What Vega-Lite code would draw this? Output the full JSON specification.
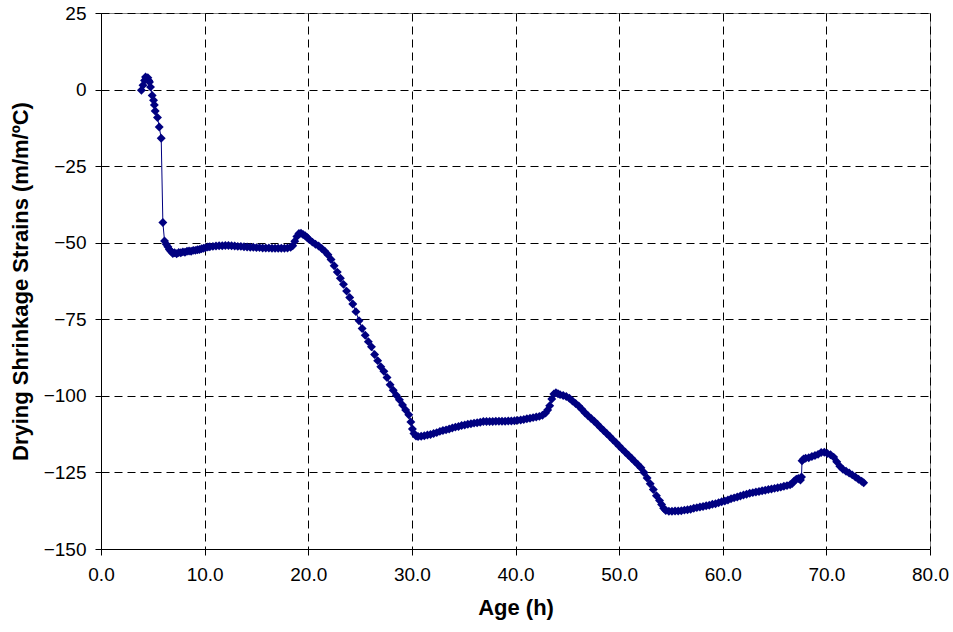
{
  "$schema": "https://vega.github.io/schema/vega-lite/v6.json",
  "width": 829,
  "height": 536,
  "autosize": {"type": "none"},
  "padding": {"left": 101, "top": 13, "right": 23, "bottom": 83},
  "background": "white",
  "config": {
    "view": {"stroke": "#808080", "strokeWidth": 1},
    "font": "Liberation Sans",
    "axis": {
      "labelFont": "Liberation Sans",
      "titleFont": "Liberation Sans",
      "labelFontSize": 19,
      "titleFontSize": 22,
      "titleFontWeight": "bold",
      "labelColor": "#000",
      "titleColor": "#000",
      "domainColor": "#000",
      "tickColor": "#000",
      "tickSize": 6,
      "gridColor": "#000",
      "gridDash": [8, 5],
      "gridWidth": 1,
      "gridOpacity": 1
    }
  },
  "data": {
    "values": [
      {"h":3.9,"v":-0.2},{"h":4.05,"v":1.4},{"h":4.2,"v":3.0},{"h":4.3,"v":4.1},{"h":4.4,"v":3.5},{"h":4.52,"v":3.9},{"h":4.6,"v":3.0},{"h":4.68,"v":2.5},{"h":4.78,"v":0.8},{"h":4.94,"v":-1.9},{"h":5.07,"v":-3.5},{"h":5.15,"v":-5.0},{"h":5.23,"v":-7.0},{"h":5.45,"v":-9.1},{"h":5.62,"v":-12.2},{"h":5.81,"v":-15.9},{"h":5.97,"v":-43.4},{"h":6.13,"v":-49.4},{"h":6.3,"v":-50.5},{"h":6.45,"v":-51.3},{"h":6.6,"v":-52.2},{"h":6.75,"v":-52.8},{"h":6.93,"v":-53.5},{"h":7.1,"v":-53.3},{"h":7.3,"v":-53.6},{"h":7.5,"v":-53.2},{"h":7.7,"v":-53.3},{"h":7.9,"v":-53.0},{"h":8.1,"v":-53.1},{"h":8.3,"v":-52.8},{"h":8.5,"v":-52.7},{"h":8.7,"v":-52.8},{"h":8.9,"v":-52.5},{"h":9.1,"v":-52.5},{"h":9.3,"v":-52.3},{"h":9.5,"v":-52.2},{"h":9.7,"v":-52.0},{"h":9.9,"v":-51.8},{"h":10.1,"v":-51.6},{"h":10.3,"v":-51.4},{"h":10.5,"v":-51.3},{"h":10.8,"v":-51.2},{"h":11.1,"v":-51.1},{"h":11.4,"v":-51.0},{"h":11.7,"v":-51.0},{"h":12.0,"v":-50.9},{"h":12.3,"v":-50.9},{"h":12.6,"v":-51.0},{"h":12.9,"v":-51.1},{"h":13.2,"v":-51.2},{"h":13.5,"v":-51.2},{"h":13.8,"v":-51.3},{"h":14.1,"v":-51.4},{"h":14.4,"v":-51.5},{"h":14.7,"v":-51.5},{"h":15.0,"v":-51.6},{"h":15.3,"v":-51.6},{"h":15.6,"v":-51.7},{"h":15.9,"v":-51.7},{"h":16.2,"v":-51.7},{"h":16.5,"v":-51.8},{"h":16.8,"v":-51.8},{"h":17.1,"v":-51.8},{"h":17.4,"v":-51.8},{"h":17.7,"v":-51.8},{"h":18.0,"v":-51.7},{"h":18.3,"v":-51.5},{"h":18.5,"v":-51.0},{"h":18.7,"v":-49.5},{"h":18.9,"v":-48.0},{"h":19.1,"v":-47.0},{"h":19.3,"v":-46.9},{"h":19.5,"v":-47.3},{"h":19.7,"v":-47.7},{"h":19.9,"v":-48.3},{"h":20.1,"v":-49.0},{"h":20.4,"v":-49.8},{"h":20.7,"v":-50.5},{"h":21.0,"v":-51.1},{"h":21.3,"v":-51.9},{"h":21.6,"v":-52.8},{"h":21.9,"v":-53.9},{"h":22.2,"v":-55.5},{"h":22.5,"v":-57.5},{"h":22.8,"v":-59.6},{"h":23.1,"v":-61.6},{"h":23.4,"v":-63.6},{"h":23.7,"v":-65.8},{"h":24.0,"v":-67.9},{"h":24.3,"v":-70.0},{"h":24.6,"v":-72.5},{"h":24.9,"v":-75.5},{"h":25.2,"v":-78.0},{"h":25.5,"v":-80.2},{"h":25.8,"v":-82.3},{"h":26.1,"v":-84.0},{"h":26.4,"v":-86.5},{"h":26.7,"v":-88.5},{"h":27.0,"v":-90.5},{"h":27.3,"v":-92.0},{"h":27.6,"v":-94.0},{"h":27.9,"v":-96.4},{"h":28.2,"v":-98.2},{"h":28.5,"v":-99.8},{"h":28.8,"v":-101.3},{"h":29.1,"v":-103.0},{"h":29.4,"v":-104.6},{"h":29.7,"v":-106.2},{"h":29.9,"v":-108.5},{"h":30.05,"v":-110.8},{"h":30.2,"v":-112.3},{"h":30.4,"v":-113.1},{"h":30.6,"v":-113.3},{"h":30.9,"v":-113.2},{"h":31.2,"v":-113.0},{"h":31.5,"v":-112.8},{"h":31.8,"v":-112.6},{"h":32.1,"v":-112.3},{"h":32.4,"v":-112.0},{"h":32.7,"v":-111.6},{"h":33.0,"v":-111.3},{"h":33.3,"v":-111.1},{"h":33.6,"v":-110.8},{"h":33.9,"v":-110.5},{"h":34.2,"v":-110.2},{"h":34.5,"v":-110.0},{"h":34.8,"v":-109.7},{"h":35.1,"v":-109.5},{"h":35.4,"v":-109.3},{"h":35.7,"v":-109.1},{"h":36.0,"v":-108.9},{"h":36.3,"v":-108.8},{"h":36.6,"v":-108.6},{"h":36.9,"v":-108.4},{"h":37.2,"v":-108.4},{"h":37.5,"v":-108.4},{"h":37.8,"v":-108.4},{"h":38.1,"v":-108.3},{"h":38.4,"v":-108.3},{"h":38.7,"v":-108.3},{"h":39.0,"v":-108.3},{"h":39.3,"v":-108.2},{"h":39.6,"v":-108.2},{"h":39.9,"v":-108.1},{"h":40.2,"v":-108.0},{"h":40.5,"v":-107.9},{"h":40.8,"v":-107.7},{"h":41.1,"v":-107.5},{"h":41.4,"v":-107.3},{"h":41.7,"v":-107.1},{"h":42.0,"v":-106.9},{"h":42.3,"v":-106.7},{"h":42.6,"v":-106.3},{"h":42.9,"v":-105.6},{"h":43.1,"v":-104.6},{"h":43.3,"v":-103.2},{"h":43.5,"v":-101.0},{"h":43.7,"v":-99.4},{"h":43.9,"v":-99.0},{"h":44.1,"v":-99.3},{"h":44.3,"v":-99.6},{"h":44.6,"v":-99.9},{"h":44.9,"v":-100.2},{"h":45.2,"v":-100.8},{"h":45.5,"v":-101.7},{"h":45.8,"v":-102.5},{"h":46.1,"v":-103.3},{"h":46.4,"v":-104.4},{"h":46.7,"v":-105.5},{"h":47.0,"v":-106.5},{"h":47.3,"v":-107.4},{"h":47.6,"v":-108.3},{"h":47.9,"v":-109.3},{"h":48.2,"v":-110.3},{"h":48.5,"v":-111.3},{"h":48.8,"v":-112.3},{"h":49.1,"v":-113.3},{"h":49.4,"v":-114.3},{"h":49.7,"v":-115.3},{"h":50.0,"v":-116.4},{"h":50.3,"v":-117.4},{"h":50.6,"v":-118.4},{"h":50.9,"v":-119.4},{"h":51.2,"v":-120.4},{"h":51.5,"v":-121.4},{"h":51.8,"v":-122.4},{"h":52.1,"v":-123.5},{"h":52.4,"v":-125.0},{"h":52.7,"v":-126.8},{"h":53.0,"v":-128.7},{"h":53.3,"v":-130.6},{"h":53.6,"v":-132.6},{"h":53.9,"v":-134.2},{"h":54.1,"v":-135.5},{"h":54.3,"v":-136.7},{"h":54.5,"v":-137.4},{"h":54.8,"v":-137.7},{"h":55.1,"v":-137.7},{"h":55.4,"v":-137.6},{"h":55.7,"v":-137.6},{"h":56.0,"v":-137.5},{"h":56.3,"v":-137.3},{"h":56.6,"v":-137.2},{"h":56.9,"v":-137.0},{"h":57.2,"v":-136.7},{"h":57.5,"v":-136.5},{"h":57.8,"v":-136.3},{"h":58.1,"v":-136.1},{"h":58.4,"v":-135.9},{"h":58.7,"v":-135.7},{"h":59.0,"v":-135.4},{"h":59.3,"v":-135.2},{"h":59.6,"v":-134.9},{"h":59.9,"v":-134.6},{"h":60.2,"v":-134.3},{"h":60.5,"v":-134.0},{"h":60.8,"v":-133.6},{"h":61.1,"v":-133.3},{"h":61.4,"v":-133.0},{"h":61.7,"v":-132.7},{"h":62.0,"v":-132.4},{"h":62.3,"v":-132.1},{"h":62.6,"v":-131.8},{"h":62.9,"v":-131.6},{"h":63.2,"v":-131.4},{"h":63.5,"v":-131.2},{"h":63.8,"v":-131.0},{"h":64.1,"v":-130.8},{"h":64.4,"v":-130.6},{"h":64.7,"v":-130.4},{"h":65.0,"v":-130.2},{"h":65.3,"v":-130.0},{"h":65.6,"v":-129.8},{"h":65.9,"v":-129.5},{"h":66.2,"v":-129.3},{"h":66.5,"v":-129.0},{"h":66.7,"v":-128.6},{"h":66.9,"v":-127.8},{"h":67.1,"v":-127.2},{"h":67.3,"v":-127.0},{"h":67.5,"v":-127.5},{"h":67.6,"v":-126.5},{"h":67.65,"v":-121.2},{"h":67.8,"v":-120.6},{"h":68.0,"v":-120.4},{"h":68.3,"v":-120.2},{"h":68.6,"v":-119.8},{"h":68.9,"v":-119.5},{"h":69.2,"v":-119.1},{"h":69.5,"v":-118.5},{"h":69.8,"v":-118.4},{"h":70.1,"v":-118.8},{"h":70.4,"v":-119.2},{"h":70.7,"v":-120.0},{"h":71.0,"v":-121.5},{"h":71.3,"v":-123.0},{"h":71.6,"v":-124.0},{"h":71.9,"v":-124.6},{"h":72.2,"v":-125.2},{"h":72.5,"v":-125.8},{"h":72.8,"v":-126.5},{"h":73.1,"v":-127.2},{"h":73.4,"v":-127.9},{"h":73.6,"v":-128.4}
    ]
  },
  "mark": {
    "type": "line",
    "color": "#000080",
    "strokeWidth": 1,
    "point": {"shape": "diamond", "size": 80, "filled": true, "color": "#000080", "opacity": 1}
  },
  "encoding": {
    "x": {
      "field": "h",
      "type": "quantitative",
      "scale": {"domain": [0, 80], "nice": false, "zero": false},
      "axis": {
        "title": "Age (h)",
        "values": [0, 10, 20, 30, 40, 50, 60, 70, 80],
        "format": ".1f",
        "labelPadding": 10,
        "titlePadding": 13,
        "labelFlush": false
      }
    },
    "y": {
      "field": "v",
      "type": "quantitative",
      "scale": {"domain": [-150, 25], "nice": false, "zero": false},
      "axis": {
        "title": "Drying Shrinkage Strains (m/m/ºC)",
        "values": [-150, -125, -100, -75, -50, -25, 0, 25],
        "labelPadding": 9,
        "titlePadding": 11,
        "labelFlush": false
      }
    }
  }
}
